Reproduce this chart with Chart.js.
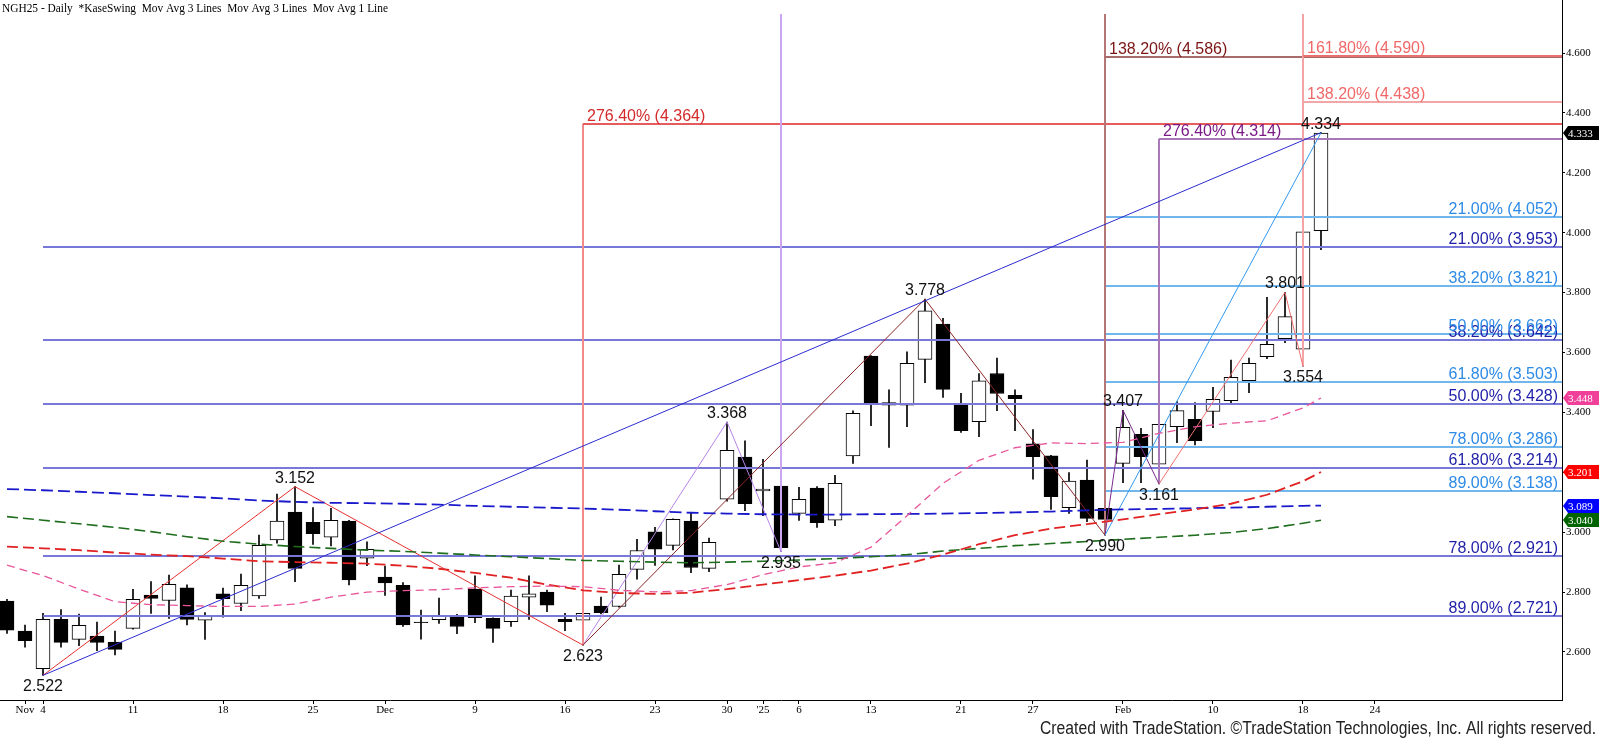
<!DOCTYPE html>
<html><head><meta charset="utf-8">
<script src="https://cdn.jsdelivr.net/npm/chart.js@4.4.1/dist/chart.umd.min.js"></script>
<style>html,body{margin:0;padding:0;background:#fff;overflow:hidden}canvas{display:block}</style>
</head><body>
<canvas id="c" width="1600" height="739"></canvas>
<script>
// ---- data ----
const dates = ['2024-10-31','2024-11-01','2024-11-04','2024-11-05','2024-11-06','2024-11-07','2024-11-08',
'2024-11-11','2024-11-12','2024-11-13','2024-11-14','2024-11-15','2024-11-18','2024-11-19','2024-11-20','2024-11-21','2024-11-22',
'2024-11-25','2024-11-26','2024-11-27','2024-11-29','2024-12-02','2024-12-03','2024-12-04','2024-12-05','2024-12-06',
'2024-12-09','2024-12-10','2024-12-11','2024-12-12','2024-12-13','2024-12-16','2024-12-17','2024-12-18','2024-12-19','2024-12-20',
'2024-12-23','2024-12-24','2024-12-26','2024-12-27','2024-12-30','2024-12-31','2025-01-02','2025-01-03',
'2025-01-06','2025-01-07','2025-01-08','2025-01-10','2025-01-13','2025-01-14','2025-01-15','2025-01-16','2025-01-17',
'2025-01-21','2025-01-22','2025-01-23','2025-01-24','2025-01-27','2025-01-28','2025-01-29','2025-01-30','2025-01-31',
'2025-02-03','2025-02-04','2025-02-05','2025-02-06','2025-02-07','2025-02-10','2025-02-11','2025-02-12','2025-02-13','2025-02-14',
'2025-02-18','2025-02-19','2025-02-20','2025-02-21','2025-02-24'];

const openP = [2.770,2.670,2.544,2.709,2.642,2.653,2.633,2.679,2.790,2.772,
2.814,2.706,2.794,2.762,2.787,2.974,3.067,3.033,2.983,3.037,
2.913,2.850,2.823,2.700,2.708,2.720,2.810,2.712,2.701,2.783,
2.800,2.709,2.706,2.753,2.752,2.876,3.001,2.956,3.037,2.879,
3.110,3.251,3.138,3.154,3.063,3.147,3.040,3.255,3.588,3.424,
3.424,3.577,3.695,3.427,3.369,3.530,3.457,3.295,3.255,3.082,
3.174,3.080,3.230,3.327,3.227,3.352,3.377,3.403,3.439,3.506,
3.586,3.646,3.611,4.007];
const highP = [2.776,2.690,2.729,2.742,2.727,2.700,2.670,2.809,2.835,2.857,
2.824,2.732,2.813,2.860,2.990,3.127,3.152,3.082,3.080,3.040,
2.968,2.887,2.832,2.740,2.780,2.726,2.854,2.714,2.807,2.854,
2.807,2.729,2.769,2.783,2.890,2.976,3.016,3.045,3.063,2.980,
3.368,3.305,3.243,3.172,3.150,3.152,3.190,3.405,3.590,3.475,
3.602,3.778,3.714,3.464,3.530,3.581,3.475,3.343,3.257,3.199,
3.241,3.117,3.407,3.347,3.375,3.436,3.433,3.484,3.575,3.581,
3.784,3.801,4.015,4.334];
const lowP = [2.662,2.616,2.522,2.616,2.621,2.604,2.590,2.676,2.729,2.712,
2.690,2.642,2.716,2.738,2.779,2.963,2.835,2.959,2.954,2.824,
2.888,2.789,2.685,2.643,2.695,2.661,2.698,2.632,2.685,2.709,
2.735,2.671,2.623,2.727,2.750,2.843,2.889,2.941,2.865,2.868,
3.104,3.072,3.055,2.935,3.039,3.016,3.022,3.230,3.356,3.283,
3.352,3.499,3.450,3.333,3.319,3.406,3.339,3.177,3.076,3.063,
3.035,2.990,3.165,3.165,3.161,3.299,3.291,3.349,3.428,3.466,
3.579,3.633,3.554,3.943];
const closeP = [2.673,2.638,2.709,2.632,2.689,2.632,2.609,2.776,2.779,2.826,
2.709,2.719,2.778,2.823,2.956,3.037,2.879,2.995,3.040,2.841,
2.943,2.831,2.690,2.698,2.719,2.685,2.715,2.679,2.787,2.794,
2.756,2.701,2.729,2.731,2.859,2.939,2.943,3.043,2.882,2.966,
3.273,3.095,3.144,2.948,3.110,3.032,3.163,3.397,3.427,3.433,
3.564,3.739,3.477,3.339,3.505,3.463,3.446,3.252,3.119,3.171,
3.046,3.043,3.350,3.252,3.360,3.406,3.306,3.444,3.517,3.564,
3.627,3.720,4.003,4.333];

// moving averages (read every other session)
const maDates = ['2024-10-31','2024-11-04','2024-11-06','2024-11-08','2024-11-12','2024-11-14','2024-11-18','2024-11-20','2024-11-22',
'2024-11-26','2024-11-29','2024-12-03','2024-12-05','2024-12-09','2024-12-11','2024-12-13','2024-12-17','2024-12-19','2024-12-23',
'2024-12-26','2024-12-30','2025-01-02','2025-01-06','2025-01-08','2025-01-13','2025-01-15','2025-01-17','2025-01-22','2025-01-24',
'2025-01-28','2025-01-30','2025-02-03','2025-02-05','2025-02-07','2025-02-11','2025-02-13','2025-02-18','2025-02-19'];
const maBlue = [3.144,3.140,3.135,3.130,3.124,3.119,3.113,3.106,3.101,3.098,3.097,3.095,3.092,3.088,3.085,3.082,3.079,3.075,3.070,
3.065,3.062,3.060,3.059,3.059,3.060,3.061,3.062,3.064,3.066,3.069,3.073,3.076,3.078,3.080,3.082,3.085,3.088,3.089];
const maGreen = [3.052,3.040,3.028,3.016,3.002,2.985,2.970,2.960,2.952,2.946,2.940,2.936,2.930,2.924,2.918,2.912,2.906,2.903,2.900,
2.898,2.900,2.903,2.907,2.912,2.918,2.925,2.937,2.946,2.955,2.962,2.969,2.976,2.983,2.990,2.999,3.012,3.030,3.040];
const maRed = [2.952,2.946,2.940,2.932,2.925,2.920,2.912,2.903,2.900,2.898,2.895,2.888,2.878,2.864,2.848,2.825,2.806,2.797,2.794,
2.798,2.810,2.825,2.840,2.855,2.872,2.895,2.925,2.960,2.990,3.012,3.027,3.043,3.060,3.076,3.095,3.125,3.170,3.201];
const maPink = [2.890,2.855,2.810,2.768,2.758,2.755,2.752,2.752,2.760,2.783,2.800,2.805,2.808,2.814,2.818,2.820,2.818,2.806,2.801,
2.805,2.825,2.858,2.884,2.898,2.950,3.055,3.163,3.240,3.282,3.298,3.296,3.300,3.330,3.352,3.364,3.372,3.415,3.448];

// swing pivots
const pivotDates = ['2024-11-04','2024-11-22','2024-12-17','2024-12-30','2025-01-03','2025-01-16','2025-01-31','2025-02-03','2025-02-05','2025-02-14','2025-02-18','2025-02-19'];
const pivotVals = [2.522,3.152,2.623,3.368,2.935,3.778,2.990,3.407,3.161,3.801,3.554,4.334];
const pivotHigh = [false,true,false,true,false,true,false,true,false,true,false,true];

// swing legs
const legRedD = ['2024-11-04','2024-11-22','2024-12-17'], legRedV = [2.522,3.152,2.623];
const legBrownD = ['2024-12-17','2025-01-16','2025-01-31'], legBrownV = [2.623,3.778,2.990];
const legLavD = ['2024-12-17','2024-12-30','2025-01-03'], legLavV = [2.623,3.368,2.935];
const legPurpD = ['2025-01-31','2025-02-03','2025-02-05'], legPurpV = [2.990,3.407,3.161];
const legSalD = ['2025-02-05','2025-02-14','2025-02-18'], legSalV = [3.161,3.801,3.554];
const trendBlueD = ['2024-11-04','2025-02-19'], trendBlueV = [2.522,4.334];
const trendLtD = ['2025-01-31','2025-02-19'], trendLtV = [2.990,4.334];

// retracement levels
const fibAStart = '2024-11-04';
const fibAPct = ['21.00%','38.20%','50.00%','61.80%','78.00%','89.00%'];
const fibAVal = [3.953,3.642,3.428,3.214,2.921,2.721];
const fibBStart = '2025-01-31';
const fibBPct = ['21.00%','38.20%','50.00%','61.80%','78.00%','89.00%'];
const fibBVal = [4.052,3.821,3.662,3.503,3.286,3.138];

// extension markers
const extDates = ['2024-12-17','2025-01-03','2025-01-31','2025-02-05','2025-02-18'];
const extFrom = [2.623,2.935,2.990,3.161,3.554];
const extTo = [4.364,4.730,4.730,4.314,4.730];
const extLevels = [[4.364],[],[4.586],[4.314],[4.590,4.438]];
const extPct = [['276.40%'],[],['138.20%'],['276.40%'],['161.80%','138.20%']];

// axis
const tickDates = ['2024-11-01','2024-11-04','2024-11-11','2024-11-18','2024-11-25','2024-12-02','2024-12-09','2024-12-16','2024-12-23',
'2024-12-30','2025-01-02','2025-01-06','2025-01-13','2025-01-21','2025-01-27','2025-02-03','2025-02-10','2025-02-18','2025-02-24'];
const tickLabels = ['Nov','4','11','18','25','Dec','9','16','23','30',"'25",'6','13','21','27','Feb','10','18','24'];
const lastVals = [4.333,3.448,3.201,3.089,3.040];

// ---- styles ----
const boxColors = ['#000000','#f0409a','#ff0000','#0000ff','#006400'];
const extVColors = ['#f28a8a','#cda6f2','#b47676','#a878b8','#f4a4a4'];
const extHColors = [['#e65c5c'],[],['#a86a6a'],['#a878b8'],['#e87070','#f2a6a6']];
const extTColors = ['#d42a2a','','#7b1414','#7a1a85','#f06868'];
const X_MIN = -0.389, X_MAX = 86.389, Y_MIN = 2.4397, Y_MAX = 4.777;
const SANS = '"Liberation Sans", Arial, sans-serif';
const SERIF = '"Liberation Serif", "Times New Roman", serif';

const pos = d => dates.indexOf(d);
const pts = (ds, vs) => ds.map((d, i) => ({x: pos(d), y: vs[i]}));
const n = openP.length;
const bodies = [], wicks = [], bodyColors = [];
for (let i = 0; i < n; i++) {
  bodies.push({x: i, y: [openP[i], closeP[i]]});
  wicks.push({x: i, y: [lowP[i], highP[i]]});
  bodyColors.push(closeP[i] >= openP[i] ? '#ffffff' : '#000000');
}
const line = (data, color, width, dash) => ({type: 'line', data, borderColor: color, borderWidth: width,
  borderDash: dash || [], pointRadius: 0, fill: false, tension: 0, order: 1});

const datasets = [
  line(pts(maDates, maPink), '#e8559a', 1.3, [8, 5]),
  line(pts(maDates, maRed), '#e02222', 1.8, [11, 5]),
  line(pts(maDates, maGreen), '#1f6e1f', 1.6, [11, 5]),
  line(pts(maDates, maBlue), '#1a1acc', 1.8, [12, 5]),
  line(pts(trendBlueD, trendBlueV), '#2b2bd0', 1),
  line(pts(trendLtD, trendLtV), '#3399ee', 1),
  line(pts(legRedD, legRedV), '#e83030', 1),
  line(pts(legBrownD, legBrownV), '#8b2525', 1),
  line(pts(legLavD, legLavV), '#b684e8', 1),
  line(pts(legPurpD, legPurpV), '#7a2a8c', 1),
  line(pts(legSalD, legSalV), '#f07070', 1),
  {type: 'bar', data: bodies, backgroundColor: bodyColors, borderColor: '#000', borderWidth: 1,
   borderSkipped: false, barThickness: 14, grouped: false, order: 2},
  {type: 'bar', data: wicks, backgroundColor: '#000', borderWidth: 0, barThickness: 1, grouped: false, order: 3}
];
const BODY_INDEX = 11;

const annot = {
  id: 'annot',
  afterDatasetDraw(chart, args) {
    if (args.index !== BODY_INDEX) return;
    const {ctx, chartArea: ca, scales: {x, y}} = chart;
    ctx.save();
    ctx.beginPath(); ctx.rect(ca.left, ca.top, ca.width, ca.height); ctx.clip();
    const hline = (d, v, color) => {
      const py = Math.round(y.getPixelForValue(v));
      ctx.strokeStyle = color; ctx.lineWidth = 2;
      ctx.beginPath(); ctx.moveTo(x.getPixelForValue(pos(d)), py); ctx.lineTo(ca.right, py); ctx.stroke();
    };
    fibAVal.forEach(v => hline(fibAStart, v, '#7878d8'));
    fibBVal.forEach(v => hline(fibBStart, v, '#72b6ee'));
    extDates.forEach((d, i) => {
      const px = Math.round(x.getPixelForValue(pos(d)));
      ctx.strokeStyle = extVColors[i]; ctx.lineWidth = 2;
      ctx.beginPath(); ctx.moveTo(px, y.getPixelForValue(extFrom[i])); ctx.lineTo(px, y.getPixelForValue(extTo[i])); ctx.stroke();
      extLevels[i].forEach((v, k) => hline(d, v, extHColors[i][k]));
    });
    ctx.restore();
  },
  afterDatasetsDraw(chart) {
    const {ctx, chartArea: ca, scales: {x, y}} = chart;
    ctx.save();
    ctx.font = '16px ' + SANS;
    ctx.textBaseline = 'alphabetic';
    ctx.textAlign = 'right';
    fibAVal.forEach((v, i) => { ctx.fillStyle = '#1e1ea8'; ctx.fillText(fibAPct[i] + ' (' + v.toFixed(3) + ')', ca.right - 4, Math.round(y.getPixelForValue(v)) - 3); });
    fibBVal.forEach((v, i) => { ctx.fillStyle = '#2d8ae6'; ctx.fillText(fibBPct[i] + ' (' + v.toFixed(3) + ')', ca.right - 4, Math.round(y.getPixelForValue(v)) - 3); });
    ctx.textAlign = 'left';
    extDates.forEach((d, i) => {
      const px = x.getPixelForValue(pos(d));
      extLevels[i].forEach((v, k) => {
        ctx.fillStyle = extTColors[i];
        ctx.fillText(extPct[i][k] + ' (' + v.toFixed(3) + ')', px + 4, Math.round(y.getPixelForValue(v)) - 3);
      });
    });
    ctx.textAlign = 'center';
    ctx.fillStyle = '#111';
    pivotDates.forEach((d, i) => {
      const px = x.getPixelForValue(pos(d)), py = y.getPixelForValue(pivotVals[i]);
      ctx.fillText(pivotVals[i].toFixed(3), px, pivotHigh[i] ? py - 4 : py + 16);
    });
    ctx.restore();
  },
  afterDraw(chart) {
    const {ctx, chartArea: ca, scales: {y}} = chart;
    ctx.save();
    lastVals.forEach((v, i) => {
      const py = Math.round(y.getPixelForValue(v));
      ctx.fillStyle = boxColors[i];
      ctx.beginPath();
      ctx.moveTo(ca.right + 1, py); ctx.lineTo(ca.right + 6, py - 7); ctx.lineTo(1599, py - 7);
      ctx.lineTo(1599, py + 7); ctx.lineTo(ca.right + 6, py + 7); ctx.closePath(); ctx.fill();
      ctx.fillStyle = '#fff'; ctx.font = '11px ' + SERIF; ctx.textBaseline = 'middle'; ctx.textAlign = 'left';
      ctx.fillText(v.toFixed(3), ca.right + 6, py + 1);
    });
    // title
    ctx.fillStyle = '#000'; ctx.font = '13px ' + SERIF; ctx.textBaseline = 'alphabetic'; ctx.textAlign = 'left';
    const title = 'NGH25 - Daily  *KaseSwing  Mov Avg 3 Lines  Mov Avg 3 Lines  Mov Avg 1 Line';
    const tw = ctx.measureText(title).width;
    ctx.save(); ctx.translate(2, 12); ctx.scale(386 / tw, 1); ctx.fillText(title, 0, 0); ctx.restore();
    // copyright
    ctx.font = '18px ' + SANS; ctx.fillStyle = '#222';
    const cr = 'Created with TradeStation. \u00A9TradeStation Technologies, Inc. All rights reserved.';
    const cw = ctx.measureText(cr).width;
    ctx.save(); ctx.translate(1040, 734); ctx.scale(556 / cw, 1); ctx.fillText(cr, 0, 0); ctx.restore();
    ctx.restore();
  }
};

const noPad = s => { s.paddingTop = 0; s.paddingBottom = 0; s.paddingLeft = 0; s.paddingRight = 0; };

new Chart(document.getElementById('c'), {
  type: 'bar',
  data: {datasets},
  options: {
    responsive: false, animation: false,
    layout: {padding: 0},
    plugins: {legend: {display: false}, tooltip: {enabled: false}},
    scales: {
      x: {type: 'linear', min: X_MIN, max: X_MAX, offset: false, position: 'bottom',
        grid: {display: true, drawOnChartArea: false, drawTicks: true, tickLength: 4, tickColor: '#000', offset: false},
        border: {display: true, color: '#000', width: 1},
        ticks: {autoSkip: false, maxRotation: 0, minRotation: 0, padding: 0, color: '#000',
          font: {family: SERIF, size: 11}, callback: (v, i) => tickLabels[i]},
        afterBuildTicks: s => { s.ticks = tickDates.map(d => ({value: pos(d)})); },
        afterFit: s => { s.height = 39; noPad(s); }},
      y: {type: 'linear', position: 'right', min: Y_MIN, max: Y_MAX,
        grid: {display: true, drawOnChartArea: false, drawTicks: true, tickLength: 3, tickColor: '#000'},
        border: {display: true, color: '#000', width: 1},
        ticks: {stepSize: 0.2, includeBounds: false, padding: 1, color: '#000',
          font: {family: SERIF, size: 11}, callback: v => Number(v).toFixed(3)},
        afterFit: s => { s.width = 38; noPad(s); }}
    }
  },
  plugins: [annot]
});
</script>
</body></html>
